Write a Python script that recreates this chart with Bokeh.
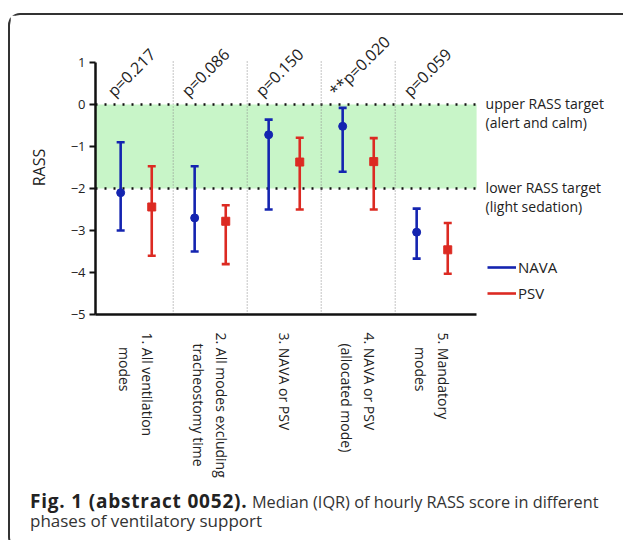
import math
from bokeh.plotting import figure
from bokeh.layouts import column
from bokeh.models import Range1d, FixedTicker, Label, Legend, LegendItem, Div
from bokeh.embed import file_html
from bokeh.resources import INLINE

# ---- data ----
NB = "\u00a0"
categories = ["1. All ventilation\n" + NB * 4 + "modes",
              "2. All modes excluding\n" + NB * 3 + "tracheostomy time",
              "3. NAVA or PSV",
              "4. NAVA or PSV\n" + NB * 3 + "(allocated mode)",
              "5. Mandatory\n" + NB * 4 + "modes"]
p_values = ["p=0.217", "p=0.086", "p=0.150", "**p=0.020", "p=0.059"]

nava_median = [-2.1, -2.7, -0.72, -0.52, -3.04]
nava_q1 = [-3.0, -3.5, -2.5, -1.6, -3.67]
nava_q3 = [-0.9, -1.47, -0.36, -0.08, -2.48]

psv_median = [-2.44, -2.78, -1.37, -1.36, -3.46]
psv_q1 = [-3.6, -3.8, -2.5, -2.5, -4.03]
psv_q3 = [-1.47, -2.4, -0.79, -0.8, -2.82]

y_ticks = [1, 0, -1, -2, -3, -4, -5]
target_upper = 0
target_lower = -2

caption_bold = "Fig. 1 (abstract 0052)."
caption_rest = "Median (IQR) of hourly RASS score in different"
caption_line2 = "phases of ventilatory support"

NAVA_COLOR = "#1424b0"
PSV_COLOR = "#dc2a22"
FONT = "Open Sans"
TXT = "#222222"

n = len(categories)
xs = list(range(n))
x_nava = [i - 0.21 for i in xs]
x_psv = [i + 0.21 for i in xs]
x_lo, x_hi = -0.55, 4.6

p = figure(width=613, height=466, output_backend="svg", toolbar_location=None,
           x_range=Range1d(x_lo, 6.477), y_range=Range1d(-5, 2.0),
           min_border_left=85, min_border_right=8, min_border_top=5,
           min_border_bottom=167)
p.outline_line_color = None
p.grid.visible = False
p.background_fill_color = "white"
p.border_fill_color = "white"

# green target band
p.quad(left=[x_lo], right=[x_hi], bottom=[target_lower], top=[target_upper],
       fill_color="#c8f5c8", line_color=None)
# dotted target lines
p.segment(x0=[x_lo, x_lo], x1=[x_hi, x_hi], y0=[target_upper, target_lower],
          y1=[target_upper, target_lower], line_color="#111111", line_width=2.5,
          line_dash="2 7")
# vertical separators
seps = [i + 0.5 for i in xs[:-1]]
p.segment(x0=seps, x1=seps, y0=[-5] * len(seps), y1=[1.05] * len(seps),
          line_color="#888888", line_width=1, line_dash="1 2")

# error bars
r_nava = p.segment(x0=x_nava, x1=x_nava, y0=nava_q1, y1=nava_q3,
                   line_color=NAVA_COLOR, line_width=2.6)
p.scatter(x_nava + x_nava, nava_q1 + nava_q3, marker="dash", size=8,
          line_color=NAVA_COLOR, line_width=2.6)
p.scatter(x_nava, nava_median, marker="circle", size=8, fill_color=NAVA_COLOR,
          line_color=NAVA_COLOR)

r_psv = p.segment(x0=x_psv, x1=x_psv, y0=psv_q1, y1=psv_q3,
                  line_color=PSV_COLOR, line_width=2.6)
p.scatter(x_psv + x_psv, psv_q1 + psv_q3, marker="dash", size=8,
          line_color=PSV_COLOR, line_width=2.6)
p.scatter(x_psv, psv_median, marker="square", size=8, fill_color=PSV_COLOR,
          line_color=PSV_COLOR)

# axes
yax = p.yaxis[0]
yax.bounds = (-5, 1)
yax.ticker = FixedTicker(ticks=y_ticks)
yax.minor_tick_line_color = None
yax.major_tick_out = 6
yax.major_tick_in = 0
yax.major_tick_line_width = 2
yax.axis_line_width = 2.5
yax.axis_line_color = "#111111"
yax.major_tick_line_color = "#111111"
yax.major_label_text_font = FONT
yax.major_label_text_font_size = "13px"
yax.major_label_text_color = TXT
yax.major_label_standoff = 4
yax.axis_label = "RASS"
yax.axis_label_text_font = FONT
yax.axis_label_text_font_size = "16px"
yax.axis_label_text_font_style = "normal"
yax.axis_label_text_color = TXT
yax.axis_label_standoff = 18

xax = p.xaxis[0]
xax.bounds = (x_lo, x_hi)
xax.ticker = FixedTicker(ticks=xs)
xax.major_label_overrides = {i: c for i, c in zip(xs, categories)}
xax.major_label_orientation = -math.pi / 2
xax.minor_tick_line_color = None
xax.major_tick_line_color = None
xax.axis_line_width = 2.5
xax.axis_line_color = "#111111"
xax.major_label_text_font = FONT
xax.major_label_text_font_size = "14px"
xax.major_label_text_color = TXT
xax.major_label_standoff = 12

# p-value labels
for i, t in zip(xs, p_values):
    p.add_layout(Label(x=i, y=0.26, x_offset=-26, text=t, angle=math.pi / 4,
                       text_font=FONT, text_font_size="16px", text_color=TXT,
                       text_align="left", text_baseline="alphabetic"))

# right-side target annotations
for txt, yv, off in [("upper RASS target", target_upper, 1),
                     ("(alert and calm)", target_upper, -18),
                     ("lower RASS target", target_lower, 1),
                     ("(light sedation)", target_lower, -18)]:
    p.add_layout(Label(x=x_hi, y=yv, x_offset=9, y_offset=off, text=txt,
                       text_font=FONT, text_font_size="14px", text_color=TXT,
                       text_align="left", text_baseline="alphabetic"))

# legend
legend = Legend(items=[LegendItem(label="NAVA", renderers=[r_nava]),
                       LegendItem(label="PSV", renderers=[r_psv])],
                location=(392, 11), orientation="vertical")
legend.background_fill_alpha = 0
legend.border_line_color = None
legend.padding = 0
legend.margin = 0
legend.spacing = 6
legend.glyph_width = 29
legend.glyph_height = 20
legend.label_height = 20
legend.label_standoff = 2
legend.label_text_font = FONT
legend.label_text_font_size = "15px"
legend.label_text_color = TXT
p.add_layout(legend, "center")

# caption
ib = "display:inline-block; line-height:14px;"
caption_html = (
    '<div style="padding:6px 0 0 15px; font-family:\'Open Sans\'; font-size:17px; '
    'line-height:19px; color:#333333; white-space:nowrap;">'
    '<span style="' + ib + ' font-weight:bold; font-size:19px; letter-spacing:0.8px; color:#222222;">'
    + caption_bold + '</span> <span style="' + ib + ' font-size:16.3px;">' + caption_rest
    + '</span><br><span style="' + ib + '">' + caption_line2 + '</span></div>'
)
cap = Div(text=caption_html, width=613, height=56)

layout = column(p, cap, spacing=0)
layout.styles = {"margin-left": "8px", "margin-top": "13px",
                 "border-left": "2px solid #333333", "border-top": "2px solid #333333",
                 "border-bottom": "2px solid #333333",
                 "border-top-left-radius": "12px", "border-bottom-left-radius": "12px"}

open("out.html", "w").write(file_html(layout, INLINE))
